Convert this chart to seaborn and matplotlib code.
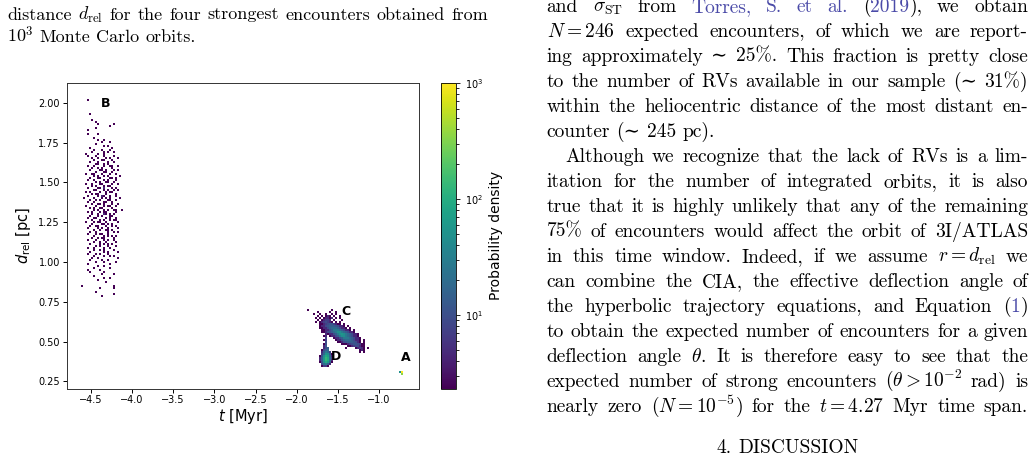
import numpy as np
import matplotlib
matplotlib.use("Agg")
import matplotlib.pyplot as plt
from matplotlib.ticker import MultipleLocator, FormatStrFormatter
import seaborn as sns

# axis ranges of the panel
T_LIM = (-4.79, -0.515)
D_LIM = (0.206, 2.124)
# 2D histogram cell size (Myr, pc)
T_STEP = 0.02427
D_STEP = 0.01255
# probability density of one orbit in one cell
UNIT = 2.33

# cell maps: one character = one histogram cell
# '.' = empty, digits = orbit counts, letters = larger counts
LEVELS = {'1': 1, '2': 2, '3': 3, '4': 4, '5': 5, '6': 6, '7': 7, '8': 8, '9': 9,
          'a': 12, 'b': 16, 'c': 20, 'd': 25, 'e': 30, 'f': 40, 'g': 55,
          'h': 75, 'i': 100, 'j': 150, 'k': 200, 'l': 300, 'm': 429}

# encounter B, top-left cell at (t, d)
B_corner = (-4.608, 2.042)
B_rows = [
    "......................",
    "...1..................",
    "......................",
    "......................",
    "......................",
    "......................",
    "......................",
    "......................",
    "....1.................",
    "......................",
    "......................",
    ".....1................",
    ".......1..............",
    "........1.......1.....",
    "..............1.......",
    ".......1..............",
    "...1..................",
    "......................",
    "...1....1.............",
    "......................",
    "......1...............",
    "........1..1..........",
    "..........1...1.......",
    ".......1..............",
    "...........1.1........",
    "....1..........1......",
    "......1...1...1.......",
    ".....1.....1.1..1.....",
    "..1.....1..1..........",
    "...1...1...1....1.....",
    ".....1..1...1.1...1...",
    "......1...11...1......",
    "....1...1....1..1.....",
    ".......11..1.1........",
    "...1..1....1..11..1...",
    ".....1..1.1....1......",
    "....1....11.1...1.1...",
    ".......1...11..1......",
    "..1..11...1...1..1....",
    "......1.1..1.1.....1..",
    "....1...11....11.1....",
    "...1..1....1.1...1....",
    ".......1.1..11..1.....",
    "..1..1...11....1..1...",
    ".....1.1...1.11.......",
    "...1....11.2...1.1....",
    "......11...1.1..1.1...",
    "..1.1....1..1.11......",
    ".....1.11...1....1....",
    "...1....1.21..1..1....",
    ".1....1...1.1.1....1..",
    "....1..1.1...11..1....",
    "...1..1....11..1......",
    ".....1..11.1...1..1...",
    "..1....1...1.11..1....",
    "....1.1..11....1......",
    "......1.1..1.1..11..1.",
    "...1.1...1.11....1....",
    ".....1..1..21.1.1.....",
    "....1...1.1...11......",
    "...1..11....1.1..1....",
    ".....1...1.1..1.11....",
    "..1...1.11..1.....1...",
    ".....1....11.1.1......",
    "....1..11...1..1.1....",
    "...1....1.1..1....1...",
    "......1..1..11.1......",
    "....1..1.....1..1.1...",
    "...1...1.11..1........",
    "......1....1.1.1.1....",
    ".....1..1.11....1.....",
    "...1...1...1.1..1.....",
    "......1..1..1....1....",
    "....1....1.1.1.1......",
    ".......1.1...1...1....",
    "...1..1....1..1.......",
    "......1..1.1....1.....",
    "....1......1.1....1...",
    "...1...1.1...1........",
    "......1....1..1.1.....",
    ".....1..1.........1...",
    "....1.....1..1........",
    ".......1...1.....1....",
    "...1..........1.......",
    "........1..1..........",
    "......1.......1.......",
    "...1.....1............",
    "....1......1..........",
    "..........1.....1.....",
    "......1...............",
    "...........1..1.......",
    "........1.............",
    "............1.........",
    "......................",
    "1...............1.....",
    ".........1......1.....",
    "......................",
    ".......1..............",
    "................1.....",
    "..........1...........",
]

# encounters C (diagonal band) and D (compact blob below it)
CD_corner = (-1.914, 0.725)
CD_rows = [
    "..............................",
    ".1...........1",
    "......1.....1..1",
    "....1..1..1..1.1",
    "......1.1.121.1..1",
    ".....1.1.12212.1.1",
    "......1.12332.1...1",
    ".....1.1234321.1.1",
    ".......11234553211.1",
    ".......1224566654221.1",
    ".......11224688864221.1",
    "........112246aaa864221.1",
    "........1124468acca864221",
    "..........212246acdca864221",
    ".........12.12246acca864221",
    "..........3...12246aaa864221",
    ".........13....1224688864221.1",
    "..........4.....112456665421.1",
    ".........14.......111234554311",
    ".........25..........112344211",
    ".........246........1....12321.1",
    "........1468...............121",
    "........26a83..............1.1",
    "........38dc61",
    ".......15cfe82",
    ".......26dgf93",
    ".......26dgf92",
    ".......15cfd71",
    "........48a62",
    "........1331",
]

# encounter A
A_corner = (-0.761, 0.3235)
A_rows = [
    "cm",
    ".j",
]

# encounter labels
LABELS = ["A", "B", "C", "D"]
LABEL_T = [-0.675, -4.318, -1.40, -1.522]
LABEL_D = [0.40, 1.996, 0.688, 0.404]

# page text around the figure
CAPTION = [
    "distance $d_\\mathrm{rel}$ for the four strongest encounters obtained from",
    "$10^3$ Monte Carlo orbits.",
]
BODY = [
    "and $\\sigma_\\mathrm{ST}$ from |Torres,| |S.| |et| |al.| (|2019|), we obtain",
    "$N=246$ expected encounters, of which we are report-",
    "ing approximately \u223c 25%. This fraction is pretty close",
    "to the number of RVs available in our sample (\u223c 31%)",
    "within the heliocentric distance of the most distant en-",
    "counter (\u223c 245 pc).",
    "Although we recognize that the lack of RVs is a lim-",
    "itation for the number of integrated orbits, it is also",
    "true that it is highly unlikely that any of the remaining",
    "75% of encounters would affect the orbit of 3I/ATLAS",
    "in this time window. Indeed, if we assume $r=d_\\mathrm{rel}$ we",
    "can combine the CIA, the effective deflection angle of",
    "the hyperbolic trajectory equations, and Equation (|1|)",
    "to obtain the expected number of encounters for a given",
    "deflection angle $\\theta$. It is therefore easy to see that the",
    "expected number of strong encounters ($\\theta>10^{-2}$ rad) is",
    "nearly zero ($N=10^{-5}$) for the $t=4.27$ Myr time span.",
]
HEADING = "4. DISCUSSION"


def cells(rows, corner):
    ts, ds, ws = [], [], []
    for r, line in enumerate(rows):
        for c, ch in enumerate(line):
            if ch != '.':
                ts.append(corner[0] + (c + 0.5) * T_STEP)
                ds.append(corner[1] - (r + 0.5) * D_STEP)
                ws.append(LEVELS[ch] * UNIT)
    return ts, ds, ws


parts = [cells(B_rows, B_corner), cells(CD_rows, CD_corner), cells(A_rows, A_corner)]
t_all = np.concatenate([p[0] for p in parts])
d_all = np.concatenate([p[1] for p in parts])
w_all = np.concatenate([p[2] for p in parts])

W, H = 1036, 455
fig = plt.figure(figsize=(W / 100, H / 100), dpi=100)
ax = fig.add_axes([67 / W, 1 - 388.5 / H, 352 / W, 305.5 / H])
cax = fig.add_axes([440.5 / W, 1 - 388.5 / H, 15.5 / W, 305.5 / H])

sns.histplot(x=t_all, y=d_all, weights=w_all,
             binwidth=(T_STEP, D_STEP), binrange=(T_LIM, D_LIM),
             cmap="viridis", norm="log", vmin=2.33, vmax=1000,
             cbar=True, cbar_ax=cax, ax=ax)

ax.set_xlim(T_LIM)
ax.set_ylim(D_LIM)
ax.xaxis.set_major_locator(MultipleLocator(0.5))
ax.yaxis.set_major_locator(MultipleLocator(0.25))
ax.yaxis.set_major_formatter(FormatStrFormatter("%.2f"))
ax.set_xlabel("$t$ [Myr]", fontsize=10.5, labelpad=1)
ax.set_ylabel("$d_\\mathrm{rel}$ [pc]", fontsize=10.5, labelpad=4)
ax.tick_params(labelsize=7, width=0.7, length=3, pad=2)
for s in ax.spines.values():
    s.set_linewidth(0.7)
    s.set_color("#333333")

for lab, t, d in zip(LABELS, LABEL_T, LABEL_D):
    ax.text(t, d, lab, fontsize=9, fontweight="bold", ha="center", va="center")

cax.set_ylabel("Probability density", fontsize=10)
cax.tick_params(which="both", labelsize=7, width=0.6)
cax.tick_params(which="major", length=3)
cax.tick_params(which="minor", length=1.8)
for s in cax.spines.values():
    s.set_linewidth(0.6)

# ---- the page text ----
renderer = fig.canvas.get_renderer()
SERIF = ["cmr10", "DejaVu Serif"]
LINK = "#4b4ba8"


def write_line(line, x0, x1, base, size, justify=True, center=False):
    groups = []
    for word in line.split(" "):
        pieces = []
        for k, piece in enumerate(word.split("|")):
            if piece:
                txt = fig.text(0, 0, piece, fontsize=size, family=SERIF,
                               math_fontfamily="cm", va="baseline",
                               color=LINK if k % 2 else "black")
                pieces.append((txt, txt.get_window_extent(renderer).width))
        groups.append(pieces)
    widths = [sum(p[1] for p in g) for g in groups]
    space = 0.333 * size * 100 / 72
    if justify and len(groups) > 1:
        space = (x1 - x0 - sum(widths)) / (len(groups) - 1)
    x = x0
    if center:
        x = (x0 + x1 - sum(widths) - space * (len(groups) - 1)) / 2
    for g, w in zip(groups, widths):
        xx = x
        for txt, pw in g:
            txt.set_position((xx / W, 1 - base / H))
            xx += pw
        x += w + space


write_line(CAPTION[0], 7, 488, 19.5, 13)
write_line(CAPTION[1], 7, 488, 42, 13, justify=False)

for i, line in enumerate(BODY):
    x0 = 565 if i == 6 else 546.7
    write_line(line, x0, 1028, 11.7 + 25 * i, 14, justify=(i != 5))
write_line(HEADING, 546.7, 1028, 453, 14, justify=False, center=True)

fig.savefig("out.png", dpi=100)
